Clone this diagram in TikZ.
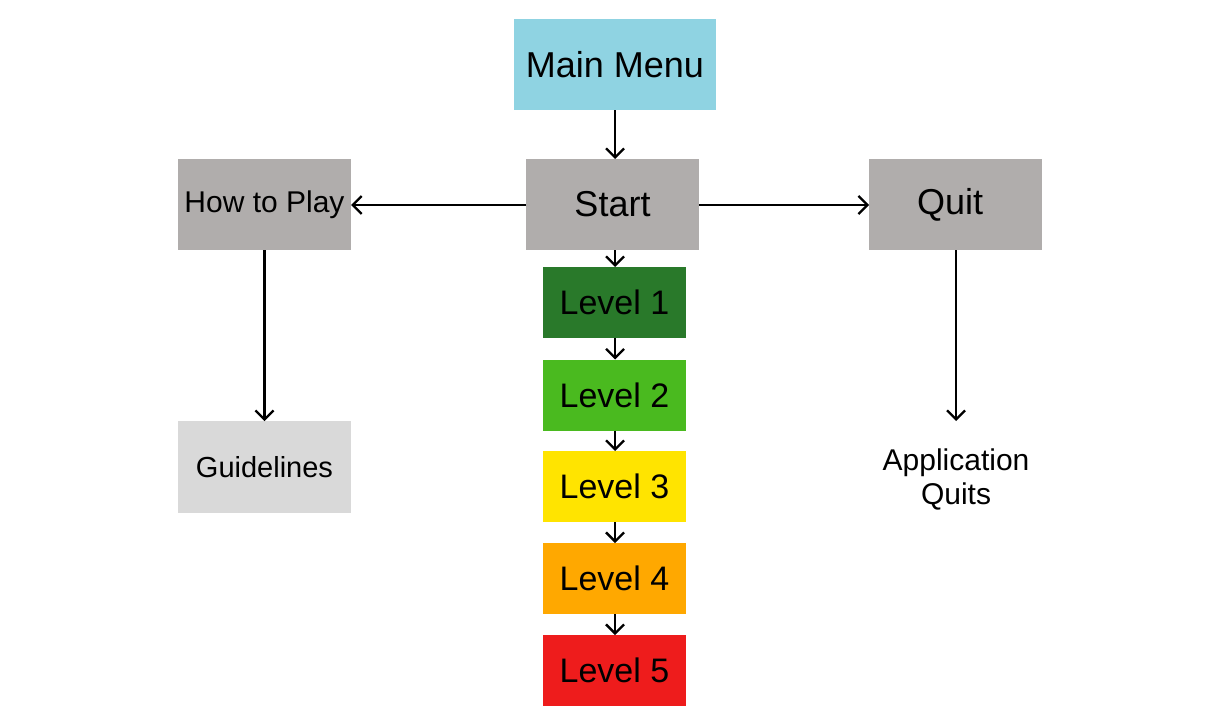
\documentclass[tikz,border=0pt]{standalone}
\usepackage{fontspec}
\setmainfont{Liberation Sans}
\usetikzlibrary{arrows.meta}
\definecolor{menublue}{HTML}{8FD3E2}
\definecolor{boxgray}{HTML}{B0ADAC}
\definecolor{lightgray}{HTML}{D9D9D9}
\definecolor{lvA}{HTML}{29792A}
\definecolor{lvB}{HTML}{4ABA1F}
\definecolor{lvC}{HTML}{FFE400}
\definecolor{lvD}{HTML}{FFA800}
\definecolor{lvE}{HTML}{EE1C1C}
\tikzset{
  box/.style={inner sep=0pt, outer sep=0pt, align=center},
  bigbox/.style={box, minimum width=173pt, minimum height=91pt, font=\fontsize{36}{40}\selectfont},
  lvl/.style={box, minimum width=143pt, minimum height=71pt, font=\fontsize{34}{40}\selectfont},
  conn/.style={line width=2.3pt, -{Straight Barb[length=9pt,width=18pt,line width=2.3pt]}}
}
\begin{document}
\begin{tikzpicture}[x=1pt,y=-1pt]
\useasboundingbox (0,0) rectangle (1222,726);
\node[box, fill=menublue, minimum width=202pt, minimum height=91pt, font=\fontsize{36}{40}\selectfont] (menu) at (615,64.5) {Main Menu};
\node[bigbox, fill=boxgray] (start) at (612.5,204.5) {Start};
\node[bigbox, fill=boxgray, font=\fontsize{30}{34}\selectfont] (how) at (264.5,204.5) {How to Play};
\node[bigbox, fill=boxgray] (quit) at (955.5,204.5) {\hspace*{-11pt}Quit};
\node[bigbox, fill=lightgray, minimum height=92pt, font=\fontsize{29}{34}\selectfont] (guide) at (264.5,467) {Guidelines};
\node[box, font=\fontsize{30}{34}\selectfont] (app) at (956,479.5) {Application\\Quits};
\node[lvl, fill=lvA] (l1) at (614.5,302.5) {Level 1};
\node[lvl, fill=lvB] (l2) at (614.5,395) {Level 2};
\node[lvl, fill=lvC] (l3) at (614.5,486.5) {Level 3};
\node[lvl, fill=lvD] (l4) at (614.5,578.5) {Level 4};
\node[lvl, fill=lvE] (l5) at (614.5,670.5) {Level 5};
\coordinate (appTop) at (956,421);
\draw[conn] (menu.south -| 615,0) -- (start.north -| 615,0);
\draw[conn] (start.west |- 0,205) -- (how.east |- 0,205);
\draw[conn] (start.east |- 0,205) -- (quit.west |- 0,205);
\draw[conn] (start.south -| 615,0) -- (l1.north -| 615,0);
\draw[conn] (l1.south -| 615,0) -- (l2.north -| 615,0);
\draw[conn] (l2.south -| 615,0) -- (l3.north -| 615,0);
\draw[conn] (l3.south -| 615,0) -- (l4.north -| 615,0);
\draw[conn] (l4.south -| 615,0) -- (l5.north -| 615,0);
\draw[conn] (how.south) -- (guide.north);
\draw[conn] (quit.south -| appTop) -- (appTop);
\end{tikzpicture}
\end{document}
